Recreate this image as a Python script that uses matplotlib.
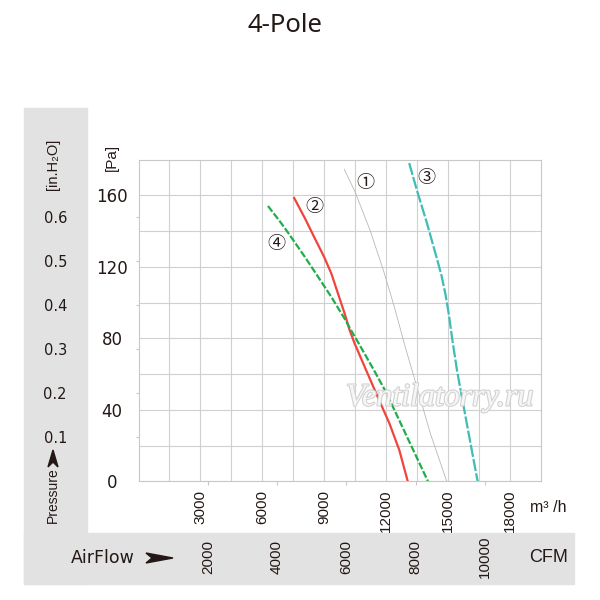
import matplotlib
matplotlib.use("Agg")
import matplotlib.pyplot as plt
import matplotlib.patheffects as pe
from matplotlib.patches import Rectangle, Polygon
from matplotlib.transforms import blended_transform_factory

# ---- data (airflow m3/h, static pressure Pa) ----
c1_flow = [9980, 10500, 11230, 11880, 12400, 12930, 13500, 14150, 14950]
c1_pres = [174.5, 162, 140.5, 118, 98, 75.5, 53, 27, 0]

c2_flow = [7550, 8065, 8548, 9000, 9355, 9677, 10000, 10240, 10480, 11040, 11600, 12170,
           12650, 13060]
c2_pres = [158.5, 147.3, 136, 125.6, 116.2, 105, 93.8, 84.6, 77.2, 62.2, 47.3, 32.4,
           17.5, 0]

c3_flow = [13130, 13500, 13990, 14440, 14700, 14900, 15060, 15200, 15450, 15770, 16100, 16450]
c3_pres = [178, 163, 144.5, 126, 115, 104, 93, 81, 62, 42, 21.5, 0]

c4_flow = [6280, 6850, 7100, 7500, 8065, 8710, 9355, 10000, 10320, 10540, 11420, 12000,
           12490, 13020, 13530, 14040]
c4_pres = [154, 145.5, 141.6, 135, 125.6, 114.4, 103.1, 90.9, 84.3, 80, 62.2, 50,
           38, 25, 12.5, 0]

curve_labels = ["\u2460", "\u2461", "\u2462", "\u2463"]
label_pos = [(11010, 167), (8530, 153.5), (13950, 169.5), (6690, 133)]

m3h_ticks = [3000, 6000, 9000, 12000, 15000, 18000]
pa_ticks = [0, 40, 80, 120, 160]
inh2o_ticks = [0.1, 0.2, 0.3, 0.4, 0.5, 0.6]
cfm_ticks = [2000, 4000, 6000, 8000, 10000]

M3H_PER_CFM = 1.68
PA_PER_INH2O = 246.0

INK = "#231815"
GRID = "#d0d0d0"
PANEL = "#e2e2e2"
ARIAL = ["Liberation Sans", "DejaVu Sans"]

W = H = 600.0


def fx(x):
    return x / W


def fy(y):
    return 1 - y / H


fig = plt.figure(figsize=(6, 6), dpi=100)

# grey L-shaped frame behind axis captions
fig.patches.append(Rectangle((fx(24.3), fy(584)), fx(86.7) - fx(24.3), fy(108) - fy(584),
                             transform=fig.transFigure, color=PANEL, zorder=-2))
fig.patches.append(Rectangle((fx(24.3), fy(584)), fx(574) - fx(24.3), fy(533) - fy(584),
                             transform=fig.transFigure, color=PANEL, zorder=-2))

ax = fig.add_axes([fx(138.5), fy(481.3), fx(540.5) - fx(138.5), fy(159.5) - fy(481.3)])
ax.set_zorder(1)
ax.set_xlim(0, 19500)
ax.set_ylim(0, 180)

ax.set_xticks(m3h_ticks)
ax.set_xticks(range(1500, 19500, 3000), minor=True)
ax.set_yticks(pa_ticks)
ax.set_yticks(range(20, 180, 40), minor=True)
ax.grid(True, which="both", color=GRID, linewidth=0.8)
ax.set_axisbelow(True)
for s in ax.spines.values():
    s.set_color("#c8c8c8")
    s.set_linewidth(0.8)

ax.tick_params(axis="both", which="both", length=0)
ax.tick_params(axis="x", pad=6, labelrotation=90, labelsize=11, labelcolor=INK)
ax.tick_params(axis="y", pad=19, labelsize=12, labelcolor=INK)
for t in ax.get_xticklabels():
    t.set_family(ARIAL)
plt.setp(ax.get_yticklabels(), ha="center")

# curves
ax.plot(c1_flow, c1_pres, color="#b8b8b8", linewidth=0.6)
ax.plot(c2_flow, c2_pres, color="#f0443c", linewidth=1.6)
ax.plot(c3_flow, c3_pres, color="#3dbdb5", linewidth=1.6, dashes=(5.5, 1.0))
ax.plot(c4_flow, c4_pres, color="#1fae4a", linewidth=1.6, dashes=(3.2, 1.0))

for lab, (x, y) in zip(curve_labels, label_pos):
    ax.text(x, y, lab, ha="center", va="center", fontsize=13, color=INK,
            family=["Noto Sans CJK JP", "DejaVu Sans"])

# watermark
ax.text(0.75, 0.259, "Ventilatorry.ru", transform=ax.transAxes, ha="center", va="center",
        fontsize=23, family="Liberation Serif", style="italic", color="#f6f6f6", zorder=5,
        path_effects=[pe.withStroke(linewidth=1.6, foreground="#d2d2d2")])

# inch of water scale on the left
sec_y = ax.secondary_yaxis("left", functions=(lambda p: p / PA_PER_INH2O,
                                              lambda h: h * PA_PER_INH2O))
sec_y.set_yticks(inh2o_ticks)
sec_y.spines["left"].set_visible(False)
sec_y.tick_params(length=2.5, width=0.8, color="#c8c8c8", pad=49, labelsize=10.5,
                  labelcolor=INK)

# CFM tick marks under the axis
sec_x = ax.secondary_xaxis("bottom", functions=(lambda q: q / M3H_PER_CFM,
                                                lambda c: c * M3H_PER_CFM))
sec_x.set_xticks(cfm_ticks)
sec_x.set_xticklabels([])
sec_x.spines["bottom"].set_visible(False)
sec_x.tick_params(length=3, width=0.8, color="#c8c8c8")

# CFM labels in the grey band
cfm_tr = blended_transform_factory(ax.transData, fig.transFigure)
for c in cfm_ticks:
    ax.text(c * M3H_PER_CFM, fy(557), str(c), transform=cfm_tr, rotation=90,
            ha="center", va="center", fontsize=11, family=ARIAL, color=INK)

# captions
fig.text(fx(285), fy(25), "4-Pole", ha="center", va="center", fontsize=18.5,
         family="Noto Sans", color=INK)
fig.text(fx(111.7), fy(157.5), "[Pa]", rotation=90, ha="center", va="center",
         fontsize=11, family=ARIAL, color=INK)
fig.text(fx(53), fy(164.5), "[in.H\u2082O]", rotation=90, ha="center", va="center",
         fontsize=10.5, family=ARIAL, color=INK)
fig.text(fx(53), fy(495.5), "Pressure", rotation=90, ha="center", va="center",
         fontsize=10, family=ARIAL, color=INK)
fig.text(fx(103), fy(558), "AirFlow", ha="center", va="center", fontsize=12.5,
         color=INK)
fig.text(fx(549), fy(558), "CFM", ha="center", va="center", fontsize=13,
         family=ARIAL, color=INK)
fig.text(fx(548), fy(508), "m\u00b3 /h", ha="center", va="center", fontsize=11.5,
         family=ARIAL, color=INK)

# arrow heads
fig.patches.append(Polygon([(fx(146), fy(553)), (fx(173), fy(558)), (fx(146), fy(563)),
                            (fx(152), fy(558))], closed=True, transform=fig.transFigure,
                           color=INK))
fig.patches.append(Polygon([(fx(48), fy(467)), (fx(53), fy(450)), (fx(58), fy(467)),
                            (fx(53), fy(462))], closed=True, transform=fig.transFigure,
                           color=INK))

fig.savefig("out.png", dpi=100)
